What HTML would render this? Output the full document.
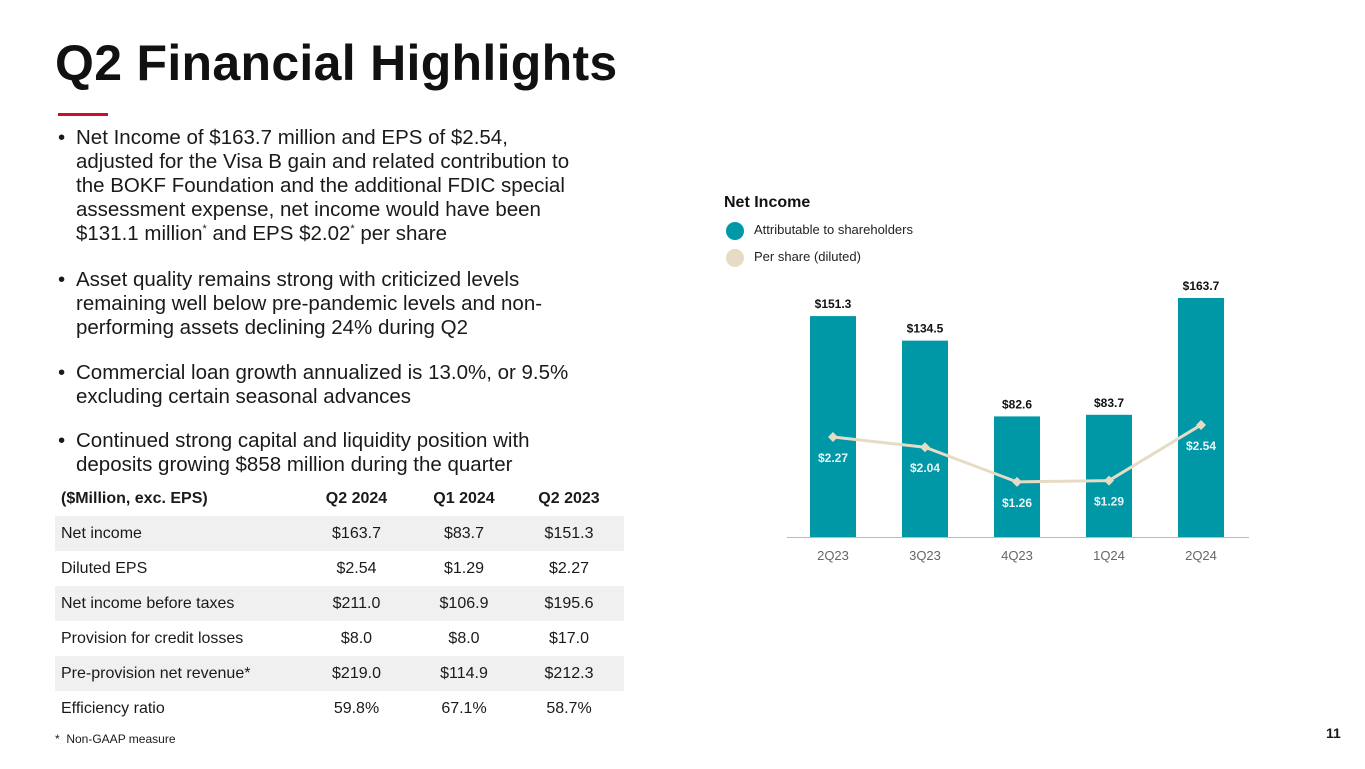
<!DOCTYPE html>
<html><head><meta charset="utf-8"><style>
body{margin:0;width:1365px;height:769px;background:#fff;font-family:"Liberation Sans",sans-serif;color:#1a1a1a;position:relative;overflow:hidden}
.abs{position:absolute}
h1{position:absolute;left:55px;top:34px;margin:0;font-size:50px;font-weight:bold;letter-spacing:0.3px;color:#111}
.bul{position:absolute;left:58px;width:600px;font-size:20.5px;line-height:24px;white-space:nowrap}
.bul span.d{position:absolute;left:0}
.bul div{margin-left:18px}
sup{font-size:11px;line-height:0;vertical-align:8px}
table{position:absolute;left:55px;top:481px;width:569px;border-collapse:collapse;font-size:16px}
td,th{height:35px;padding:0 0 0 6px}
th{font-weight:bold;text-align:left}
td.c,th.c{text-align:center;padding:0}
tr.g td{background:#f0f0f0}
</style></head><body>
<h1>Q2 Financial Highlights</h1>
<div class="abs" style="left:58px;top:113px;width:50px;height:3px;background:#c8102e"></div>
<div class="bul" style="top:126px"><span class="d">•</span><div>Net Income of $163.7 million and EPS of $2.54,<br>adjusted for the Visa B gain and related contribution to<br>the BOKF Foundation and the additional FDIC special<br>assessment expense, net income would have been<br>$131.1 million<sup>*</sup> and EPS $2.02<sup>*</sup> per share</div></div>
<div class="bul" style="top:268px"><span class="d">•</span><div>Asset quality remains strong with criticized levels<br>remaining well below pre-pandemic levels and non-<br>performing assets declining 24% during Q2</div></div>
<div class="bul" style="top:361px"><span class="d">•</span><div>Commercial loan growth annualized is 13.0%, or 9.5%<br>excluding certain seasonal advances</div></div>
<div class="bul" style="top:429px"><span class="d">•</span><div>Continued strong capital and liquidity position with<br>deposits growing $858 million during the quarter</div></div>
<table>
<tr><th>($Million, exc. EPS)</th><th class="c" style="width:115px">Q2 2024</th><th class="c" style="width:100px">Q1 2024</th><th class="c" style="width:110px">Q2 2023</th></tr>
<tr class="g"><td>Net income</td><td class="c">$163.7</td><td class="c">$83.7</td><td class="c">$151.3</td></tr>
<tr><td>Diluted EPS</td><td class="c">$2.54</td><td class="c">$1.29</td><td class="c">$2.27</td></tr>
<tr class="g"><td>Net income before taxes</td><td class="c">$211.0</td><td class="c">$106.9</td><td class="c">$195.6</td></tr>
<tr><td>Provision for credit losses</td><td class="c">$8.0</td><td class="c">$8.0</td><td class="c">$17.0</td></tr>
<tr class="g"><td>Pre-provision net revenue*</td><td class="c">$219.0</td><td class="c">$114.9</td><td class="c">$212.3</td></tr>
<tr><td>Efficiency ratio</td><td class="c">59.8%</td><td class="c">67.1%</td><td class="c">58.7%</td></tr>
</table>
<div class="abs" style="left:55px;top:732px;font-size:12px">*&nbsp; Non-GAAP measure</div>
<div class="abs" style="left:1326px;top:725px;font-size:14px;font-weight:bold">11</div>
<svg class="abs" style="left:0;top:0" width="1365" height="769">
<text x="724" y="207" font-size="16" font-weight="bold" fill="#111">Net Income</text>
<circle cx="735" cy="231" r="9" fill="#0097a7"/>
<text x="754" y="234" font-size="13" fill="#222">Attributable to shareholders</text>
<circle cx="735" cy="258" r="9" fill="#e6dcc6"/>
<text x="754" y="261" font-size="13" fill="#222">Per share (diluted)</text>
<g id="g"></g>
</svg>
<script>
const categories=["2Q23","3Q23","4Q23","1Q24","2Q24"];
const netIncome=[151.3,134.5,82.6,83.7,163.7];
const eps=[2.27,2.04,1.26,1.29,2.54];
const ns="http://www.w3.org/2000/svg",g=document.getElementById('g');
const base=537,x0=833,step=92,bw=46;
const xs=i=>x0+i*step, yBar=v=>base-v*1.46, yEps=v=>538-v*44.5;
function mk(t,a){const e=document.createElementNS(ns,t);for(const k in a)e.setAttribute(k,a[k]);g.appendChild(e);return e;}
categories.forEach((c,i)=>{
 const b=mk('rect',{x:xs(i)-bw/2,y:yBar(netIncome[i]),width:bw,height:base-yBar(netIncome[i]),fill:'#0097a7'});
 
 
 const l=mk('text',{x:xs(i),y:yBar(netIncome[i])-8,'text-anchor':'middle','font-size':12,'font-weight':'bold',fill:'#111'});l.textContent='$'+netIncome[i].toFixed(1);
 
 
 const t=mk('text',{x:xs(i),y:base+23,'text-anchor':'middle','font-size':13,fill:'#666'});t.textContent=c;
 
 
});
const ax=mk('line',{x1:787,x2:1249,y1:base+0.5,y2:base+0.5,stroke:'#bbb','stroke-width':1});


const pl=mk('polyline',{points:eps.map((v,i)=>xs(i)+','+yEps(v)).join(' '),fill:'none',stroke:'#e6dcc6','stroke-width':3});


eps.forEach((v,i)=>{
 const x=xs(i),y=yEps(v);
 const m=mk('polygon',{points:`${x},${y-5} ${x+5},${y} ${x},${y+5} ${x-5},${y}`,fill:'#e6dcc6'});
 
 
 const l=mk('text',{x:x,y:y+25,'text-anchor':'middle','font-size':12,'font-weight':'bold',fill:'#e8f4f5'});l.textContent='$'+v.toFixed(2);
 
 
});
</script>
</body></html>
